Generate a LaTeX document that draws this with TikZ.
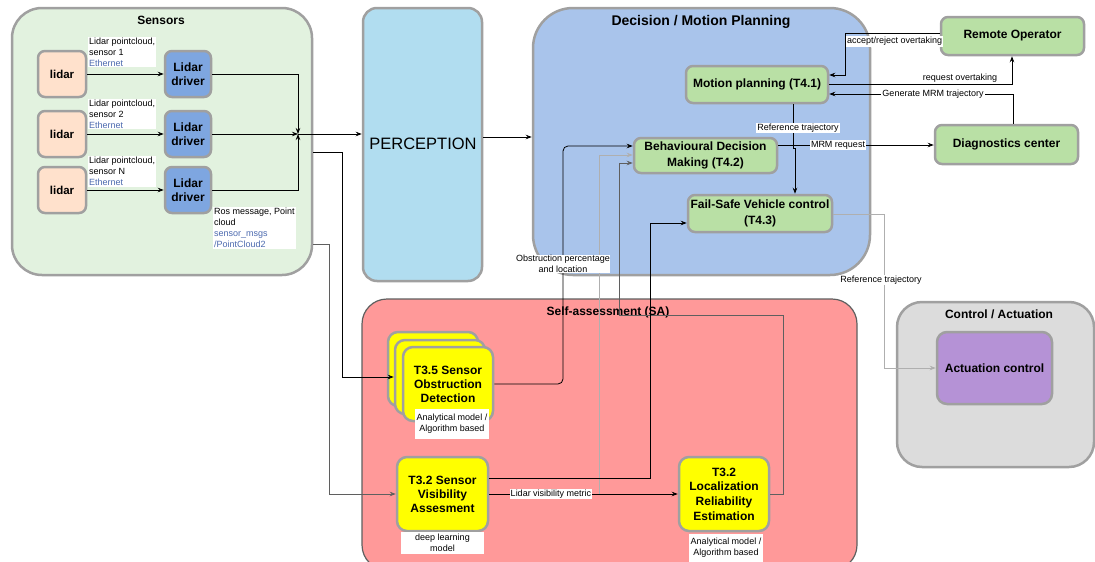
\documentclass[tikz,border=0pt]{standalone}
\usepackage{fontspec}
\setmainfont{Liberation Sans}
\usetikzlibrary{arrows.meta}
\definecolor{bdr}{RGB}{160,160,160}
\definecolor{sensfill}{RGB}{226,242,223}
\definecolor{lidfill}{RGB}{255,225,204}
\definecolor{drvfill}{RGB}{126,166,224}
\definecolor{percfill}{RGB}{177,221,240}
\definecolor{decfill}{RGB}{169,196,235}
\definecolor{grnfill}{RGB}{185,224,165}
\definecolor{safill}{RGB}{255,153,153}
\definecolor{yel}{RGB}{255,255,0}
\definecolor{cafill}{RGB}{220,220,220}
\definecolor{acfill}{RGB}{181,146,214}
\definecolor{eth}{RGB}{76,106,175}
\definecolor{lgc}{RGB}{175,175,175}
\definecolor{dgc}{RGB}{95,95,95}
\begin{document}
\begin{tikzpicture}[x=1pt,y=-1pt,
  >={Stealth[length=6pt,width=4.5pt]},
  every node/.style={inner sep=0pt},
  ctr/.style={draw=bdr, line width=2.5pt, rounded corners=30pt},
  bx/.style={draw=bdr, line width=2.5pt, rounded corners=7pt, align=center, font=\fontsize{12}{14}\selectfont\bfseries},
  ttl/.style={font=\fontsize{12}{14}\selectfont\bfseries},
  elab/.style={font=\fontsize{9}{11}\selectfont, fill=white, inner sep=1pt, align=left},
  wnote/.style={font=\fontsize{9}{11}\selectfont, fill=white, align=center},
  ln/.style={draw=black, line width=0.8pt},
  lgline/.style={draw=lgc, line width=0.8pt},
  dgline/.style={draw=dgc, line width=0.8pt},
]
\useasboundingbox (0,0) rectangle (1095,562);
\clip (0,0) rectangle (1095,562);

% containers
\node[ctr, fill=sensfill, minimum width=300pt, minimum height=267pt] (sens) at (162,141.5) {};
\node[ttl] (senst) at (161,20) {Sensors};
\node[ctr, fill=percfill, rounded corners=14pt, minimum width=119pt, minimum height=273pt] (perc) at (422.5,144.5) {};
\node[font=\fontsize{16.5}{20}\selectfont] (perct) at (423,144) {PERCEPTION};
\node[ctr, fill=decfill, rounded corners=40pt, minimum width=337pt, minimum height=267pt] (dec) at (701.5,141.5) {};
\node[ttl, font=\fontsize{14}{16}\selectfont\bfseries] (dect) at (701,22) {Decision / Motion Planning};
\node[draw=dgc, line width=1.2pt, rounded corners=25pt, fill=safill, minimum width=495pt, minimum height=271pt] (sa) at (609.5,434.5) {};
\node[ttl] (sat) at (608,312) {Self-assessment (SA)};
\node[ctr, fill=cafill, rounded corners=25pt, minimum width=197pt, minimum height=165pt] (ca) at (995.5,384.5) {};
\node[ttl] (cat) at (999,314) {Control / Actuation};

% sensors
\foreach \i/\y in {1/74,2/134,3/190}{
  \node[bx, fill=lidfill, minimum width=48pt, minimum height=46pt, font=\fontsize{11.5}{14}\selectfont\bfseries] (lid\i) at (62,\y) {lidar};
  \node[bx, fill=drvfill, minimum width=46pt, minimum height=46pt] (drv\i) at (188,\y) {Lidar\\driver};
}
\coordinate (J) at (298,134);

% decision boxes
\node[bx, fill=grnfill, minimum width=142pt, minimum height=37pt] (mp) at (757,84.5) {Motion planning (T4.1)};
\node[bx, fill=grnfill, minimum width=143pt, minimum height=35pt, font=\fontsize{12}{16}\selectfont\bfseries] (bdm) at (705.5,155.5) {Behavioural Decision\\Making (T4.2)};
\node[bx, fill=grnfill, minimum width=144pt, minimum height=37pt, font=\fontsize{12}{16}\selectfont\bfseries] (fs) at (760,213.5) {Fail-Safe Vehicle control\\(T4.3)};
\node[bx, fill=grnfill, minimum width=143pt, minimum height=38pt] (ro) at (1012.5,36) {Remote Operator};
\node[bx, fill=grnfill, minimum width=143pt, minimum height=39pt] (dc) at (1006.5,144.5) {Diagnostics center};
\node[bx, fill=acfill, rounded corners=10pt, minimum width=115pt, minimum height=72pt] (ac) at (994.5,368) {Actuation control};

% self-assessment boxes
\node[bx, fill=yel, rounded corners=10pt, minimum width=90pt, minimum height=74pt] (t35a) at (433,369) {};
\node[bx, fill=yel, rounded corners=10pt, minimum width=90pt, minimum height=74pt] (t35b) at (440,377) {};
\node[bx, fill=yel, rounded corners=10pt, minimum width=90pt, minimum height=74pt] (t35) at (448,384) {T3.5 Sensor\\Obstruction\\Detection};
\node[wnote, minimum width=74pt, minimum height=30pt] (t35n) at (452,424) {Analytical model /\\Algorithm based};
\node[bx, fill=yel, rounded corners=10pt, minimum width=91pt, minimum height=74pt] (t32v) at (442.5,494) {T3.2 Sensor\\Visibility\\Assesment};
\node[wnote, minimum width=83pt, minimum height=22pt] (t32vn) at (442.5,543) {deep learning\\model};
\node[bx, fill=yel, rounded corners=10pt, minimum width=90pt, minimum height=74pt, font=\fontsize{12}{14.7}\selectfont\bfseries] (t32l) at (724,494) {T3.2\\Localization\\Reliability\\Estimation};
\node[wnote, minimum width=74pt, minimum height=29pt] (t32ln) at (726,548) {Analytical model /\\Algorithm based};

% sensor connectors
\foreach \i in {1,2,3}{ \draw[ln,->] (lid\i) -- (drv\i); }
\node[elab, anchor=west] (e1) at (88,52) {Lidar pointcloud,\\sensor 1\\\textcolor{eth}{Ethernet}};
\node[elab, anchor=west] (e2) at (88,114) {Lidar pointcloud,\\sensor 2\\\textcolor{eth}{Ethernet}};
\node[elab, anchor=west] (e3) at (88,171.5) {Lidar pointcloud,\\sensor N\\\textcolor{eth}{Ethernet}};
\draw[ln,->] (drv1.east) -| (J);
\draw[ln,->] (drv2.east) -- (J);
\draw[ln,->] (drv3.east) -| (J);
\node[elab, anchor=west] (e4) at (213,228) {Ros message, Point\\cloud\\\textcolor{eth}{sensor\_msgs}\\\textcolor{eth}{/PointCloud2}};
\draw[ln,->] (J) -- (J -| perc.west);
\draw[ln,->] (perc.east |- 0,137) -- (dec.west |- 0,137);

% sensors to self-assessment
\draw[ln,->] (sens.east |- 0,152) -- (342,152) -- (342,377) -- (t35b.west |- 0,377);
\draw[dgline,->] (sens.east |- 0,244) -- (329,244) -- (329,494) -- (t32v.west);

% self-assessment to decision
\draw[lgline,->] (599,494) -- (599,155) -- (bdm.west |- 0,155);
\draw[dgline,->] (t32l.east) -- (783,494) -- (783,315) -- (619,315) -- (619,163) -- (bdm.west |- 0,163);
\draw[ln,->,rounded corners=5pt] (t35.east) -- (563,384) -- (563,146) -- (bdm.west |- 0,146);
\node[wnote] (e5) at (563,264) {Obstruction percentage\\and location};
\draw[ln,->] (t32v.east |- 0,478) -- (650,478) -- (650,223) -- (fs.west |- 0,223);
\draw[ln,->] (t32v.east) -- (t32l.west);
\node[elab] (e6) at (551,494) {Lidar visibility metric};

% decision connectors
\draw[ln,->] (793,0 |- mp.south) -- (793,148) -- (795,148) -- (795,0 |- fs.north);
\node[elab] (e7) at (798,128) {Reference trajectory};
\draw[ln,->] (bdm.east |- 0,145) -- (dc.west |- 0,145);
\node[elab] (e8) at (838,145) {MRM request};
\draw[ln,->] (ro.west |- 0,33) -- (845,33) -- (845,75) -- (mp.east |- 0,75);
\node[elab, anchor=west] (e9) at (846,41.5) {accept/reject overtaking};
\draw[ln,->] (mp.east |- 0,84) -- (1012,84) -- (1012,0 |- ro.south);
\node[font=\fontsize{9}{11}\selectfont] (e10) at (960,78.5) {request overtaking};
\draw[ln,->] (1013,0 |- dc.north) -- (1013,94) -- (mp.east |- 0,94);
\node[elab] (e11) at (933,94) {Generate MRM trajectory};
\draw[lgline,->] (fs.east |- 0,214) -- (884,214) -- (884,368) -- (ac.west);
\node[elab] (e12) at (881,280) {Reference trajectory};
\end{tikzpicture}
\end{document}
